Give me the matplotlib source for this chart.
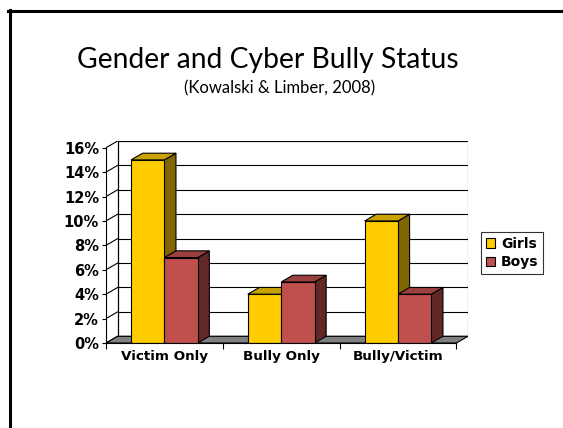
import numpy as np
import matplotlib.pyplot as plt
from matplotlib.patches import Polygon, Rectangle, Patch
from matplotlib.lines import Line2D

# data
categories = ['Victim Only', 'Bully Only', 'Bully/Victim']
girls = [15, 4, 10]
boys = [7, 5, 4]
series_names = ['Girls', 'Boys']
yticks = list(range(0, 17, 2))
ytick_labels = [f'{t}%' for t in yticks]

# face colours: front, top, side
cols = {
    'Girls': ('#FFCC00', '#C9A200', '#7F6600'),
    'Boys': ('#C0504D', '#9B403E', '#622827'),
}

DX = 0.099   # depth offset in category units
DY = 0.55    # depth offset in percent units
YMAX = 16
n = len(categories)

fig = plt.figure(figsize=(5.63, 4.28), dpi=100)
W, H = 563, 428
ax = fig.add_axes([106 / W, (H - 343) / H, (468 - 106) / W, (343 - 141) / H])
ax.set_xlim(0, n + DX)
ax.set_ylim(0, YMAX + DY)
ax.patch.set_visible(False)

lw = 0.8
# back wall
ax.add_patch(Rectangle((DX, DY), n, YMAX, facecolor='white', edgecolor='black', lw=lw, zorder=1))
# gridlines on back wall and side wall
for t in yticks:
    ax.plot([DX, n + DX], [t + DY, t + DY], color='black', lw=lw, zorder=2)
    ax.plot([0, DX], [t, t + DY], color='black', lw=lw, zorder=2)
ax.plot([DX, DX], [DY, YMAX + DY], color='black', lw=lw, zorder=2)
# floor
ax.add_patch(Polygon([(0, 0), (n, 0), (n + DX, DY), (DX, DY)], closed=True,
                     facecolor='#808080', edgecolor='black', lw=lw, zorder=3))

# bars
bw = 1 / 3.5
off = 0.75 * bw
for i in range(n):
    for j, (name, vals) in enumerate(zip(series_names, [girls, boys])):
        v = vals[i]
        x0 = i + off + j * bw
        x1 = x0 + bw
        front, top, side = cols[name]
        z = 4 + i * 3 + j
        ax.add_patch(Polygon([(x1, 0), (x1 + DX, DY), (x1 + DX, v + DY), (x1, v)], closed=True,
                             facecolor=side, edgecolor='black', lw=lw, zorder=z))
        ax.add_patch(Polygon([(x0, v), (x1, v), (x1 + DX, v + DY), (x0 + DX, v + DY)], closed=True,
                             facecolor=top, edgecolor='black', lw=lw, zorder=z))
        ax.add_patch(Rectangle((x0, 0), bw, v, facecolor=front, edgecolor='black', lw=lw, zorder=z))

# axes
for s in ['top', 'right']:
    ax.spines[s].set_visible(False)
ax.spines['left'].set_bounds(0, YMAX)
ax.spines['bottom'].set_bounds(0, n)
ax.spines['left'].set_linewidth(lw)
ax.spines['bottom'].set_linewidth(lw)
ax.spines['left'].set_zorder(20)
ax.spines['bottom'].set_zorder(20)

ax.set_yticks(yticks)
ax.set_yticklabels(ytick_labels, fontweight='bold', fontsize=10.5)
ax.tick_params(axis='y', length=3, width=lw, pad=2)

ax.set_xticks(range(n + 1))
ax.set_xticklabels([])
ax.set_xticks(np.arange(n) + 0.5, minor=True)
ax.set_xticklabels(categories, minor=True, fontweight='bold', fontsize=9.7)
ax.tick_params(axis='x', which='major', length=4, width=lw)
ax.tick_params(axis='x', which='minor', length=0, pad=5)

# legend
handles = [Patch(facecolor=cols[s][0], edgecolor='black', lw=lw) for s in series_names]
leg = fig.legend(handles, series_names, loc='center', bbox_to_anchor=(512 / W, 1 - 253 / H),
                 bbox_transform=fig.transFigure, frameon=True, fancybox=False,
                 prop={'weight': 'bold', 'size': 10}, handlelength=0.7, handleheight=0.7,
                 handletextpad=0.4, labelspacing=0.35, borderpad=0.3, borderaxespad=0)
leg.get_frame().set_edgecolor('black')
leg.get_frame().set_linewidth(lw)

# titles
fig.text(268 / W, 1 - 60 / H, 'Gender and Cyber Bully Status', ha='center', va='center',
         fontsize=20.3, family='Lato')
fig.text(280 / W, 1 - 88 / H, '(Kowalski & Limber, 2008)', ha='center', va='center',
         fontsize=12, family='Lato')

# slide frame
fig.add_artist(Line2D([9.5 / W, 9.5 / W], [0, 1 - 10 / H], color='black', lw=2.2,
                      transform=fig.transFigure))
fig.add_artist(Line2D([8.4 / W, 1], [1 - 10.5 / H, 1 - 10.5 / H], color='black', lw=2.2,
                      transform=fig.transFigure))

fig.savefig('out.png', dpi=100)
